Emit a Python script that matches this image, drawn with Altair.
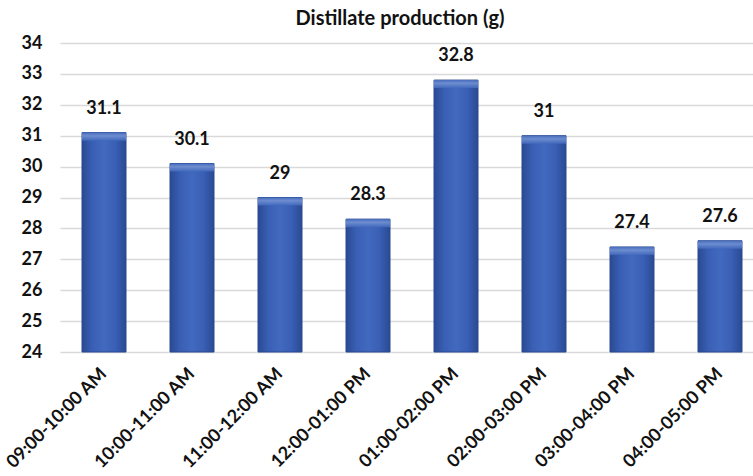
import altair as alt
import pandas as pd

# Hourly distillate yield of the still
periods = [
    "09:00-10:00 AM", "10:00-11:00 AM", "11:00-12:00 AM", "12:00-01:00 PM",
    "01:00-02:00 PM", "02:00-03:00 PM", "03:00-04:00 PM", "04:00-05:00 PM",
]
production = [31.1, 30.1, 29, 28.3, 32.8, 31, 27.4, 27.6]
y_ticks = list(range(24, 35))

df = pd.DataFrame({"period": periods, "value": production})
df["label"] = [f"{v:g}" for v in production]

FONT = "Lato"
INK = "#111111"

x_enc = alt.X(
    "period:N",
    sort=periods,
    title=None,
    scale=alt.Scale(range=[0, 704], paddingInner=0.5, paddingOuter=0.25),
    axis=alt.Axis(
        labelAngle=-45, labelAlign="right", labelBaseline="middle",
        labelPadding=19, labelFont=FONT, labelFontSize=18, labelFontWeight="bold",
        labelColor=INK, ticks=False, domain=False, grid=False,
    ),
)
y_axis = alt.Axis(
    values=y_ticks, tickCount=11, labelFont=FONT, labelFontSize=18, labelFontWeight="bold",
    labelColor=INK, labelPadding=18, ticks=False, domain=False,
    gridColor="#d9d9d9", gridWidth=1.5,
)
y_scale = alt.Scale(domain=[24, 34], nice=False, zero=False)
y_enc = alt.Y("value:Q", scale=y_scale, title=None, axis=y_axis)

body_fill = alt.Gradient(
    gradient="linear", x1=0, x2=1, y1=0, y2=0,
    stops=[
        alt.GradientStop(color="#2a4a93", offset=0),
        alt.GradientStop(color="#3a60b6", offset=0.25),
        alt.GradientStop(color="#4169bd", offset=0.5),
        alt.GradientStop(color="#3a60b6", offset=0.75),
        alt.GradientStop(color="#2a4a93", offset=1),
    ],
)
bevel_fill = alt.Gradient(
    gradient="linear", x1=0, x2=0, y1=0, y2=1,
    stops=[
        alt.GradientStop(color="#4a70c2", offset=0),
        alt.GradientStop(color="#7392d2", offset=0.4),
        alt.GradientStop(color="#4169bd", offset=1),
    ],
)

base = alt.Chart(df)

bars = base.mark_bar(fill=body_fill, stroke="#2b4990", strokeWidth=1).encode(
    x=x_enc,
    y=y_enc,
    y2=alt.datum(24),
)

bevel = base.transform_calculate(bevel_bottom="datum.value - 0.26").mark_bar(
    fill=bevel_fill, strokeWidth=0, opacity=0.9
).encode(
    x=x_enc,
    y=y_enc,
    y2="bevel_bottom:Q",
)

labels = base.mark_text(
    font=FONT, fontSize=18, fontWeight="bold", color=INK,
    baseline="middle", dy=-24,
).encode(
    x=x_enc,
    y=y_enc,
    text="label:N",
)

chart = (
    alt.layer(bars, bevel, labels)
    .properties(
        width=692,
        height=309,
        title="Distillate production (g)",
        autosize=alt.AutoSizeParams(type="none"),
        padding={"left": 60, "top": 43, "right": 1, "bottom": 124},
    )
    .configure(background="white")
    .configure_title(
        font=FONT, fontSize=20, fontWeight="bold", color=INK,
        anchor="middle", offset=5, dx=-6,
    )
    .configure_view(stroke=None)
)

chart.save("out.html", embed_options={"renderer": "svg", "actions": False})
